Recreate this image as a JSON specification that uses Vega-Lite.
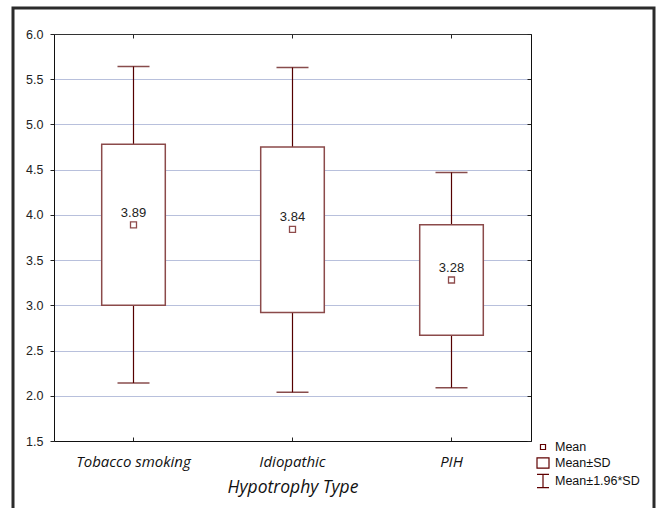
{
  "$schema": "https://vega.github.io/schema/vega-lite/v6.json",
  "width": 641,
  "height": 503,
  "autosize": {"type": "none"},
  "padding": {"left": 13, "top": 8, "right": 5, "bottom": -3},
  "background": "white",
  "config": {"view": {"stroke": "#2b2b2b", "strokeWidth": 3, "fill": "white"}},
  "data": {"values": [
    {"type": "Tobacco smoking", "mean": 3.89, "sd_lo": 3.00, "sd_hi": 4.78, "ci_lo": 2.14, "ci_hi": 5.64},
    {"type": "Idiopathic", "mean": 3.84, "sd_lo": 2.92, "sd_hi": 4.75, "ci_lo": 2.04, "ci_hi": 5.63},
    {"type": "PIH", "mean": 3.28, "sd_lo": 2.67, "sd_hi": 3.89, "ci_lo": 2.09, "ci_hi": 4.47}
  ]},
  "layer": [
    {
      "mark": {"type": "rule", "color": "#550000", "strokeWidth": 1.2},
      "encoding": {
        "x": {"field": "type", "type": "nominal", "sort": ["Tobacco smoking", "Idiopathic", "PIH"],
          "scale": {"domain": ["Tobacco smoking", "Idiopathic", "PIH"], "range": [41, 518], "paddingInner": 0, "paddingOuter": 0},
          "axis": {"orient": "bottom", "offset": -70, "title": "Hypotrophy Type", "titleFont": "Open Sans", "titleFontStyle": "italic", "titleFontSize": 17.5, "titleFontWeight": "normal", "titleColor": "#111", "titlePadding": 9,
            "labelFont": "Open Sans", "labelFontStyle": "italic", "labelFontSize": 15, "labelColor": "#111", "labelPadding": 17, "labelAngle": 0,
            "tickSize": -4, "tickColor": "#222", "domainColor": "#111", "domainWidth": 1, "grid": false}},
        "y": {"field": "ci_lo", "type": "quantitative",
          "scale": {"domain": [1.5, 6], "range": [433, 26], "nice": false, "zero": false},
          "axis": {"orient": "left", "offset": -41, "title": null, "values": [1.5, 2, 2.5, 3, 3.5, 4, 4.5, 5, 5.5, 6], "format": ".1f",
            "labelFont": "Liberation Sans", "labelFontSize": 12.5, "labelColor": "#222", "labelPadding": 7,
            "tickSize": 4, "tickColor": "#222", "domainColor": "#111", "domainWidth": 1,
            "grid": true, "gridColor": "#7080b8", "gridDash": [1, 1], "gridWidth": 1}},
        "y2": {"field": "ci_hi"}
      }
    },
    {
      "mark": {"type": "bar", "fill": "white", "stroke": "#8b4a4a", "strokeWidth": 1.5, "width": {"band": 0.4}},
      "encoding": {
        "x": {"field": "type", "type": "nominal", "sort": ["Tobacco smoking", "Idiopathic", "PIH"],
          "axis": {"orient": "top", "offset": -26, "title": null, "labels": false, "tickSize": -4, "tickColor": "#222", "domainColor": "#333", "domainWidth": 1, "grid": false}},
        "y": {"field": "sd_lo", "type": "quantitative",
          "axis": {"orient": "right", "offset": -123, "title": null, "labels": false, "values": [1.5, 2, 2.5, 3, 3.5, 4, 4.5, 5, 5.5, 6], "tickSize": -4, "tickColor": "#222", "domainColor": "#111", "domainWidth": 1, "grid": false}},
        "y2": {"field": "sd_hi"}
      }
    },
    {
      "mark": {"type": "tick", "color": "#550000", "size": 32, "thickness": 1.5},
      "encoding": {
        "x": {"field": "type", "type": "nominal", "sort": ["Tobacco smoking", "Idiopathic", "PIH"], "axis": null},
        "y": {"field": "ci_hi", "type": "quantitative", "axis": null}
      }
    },
    {
      "mark": {"type": "tick", "color": "#550000", "size": 32, "thickness": 1.5},
      "encoding": {
        "x": {"field": "type", "type": "nominal", "sort": ["Tobacco smoking", "Idiopathic", "PIH"], "axis": null},
        "y": {"field": "ci_lo", "type": "quantitative", "axis": null}
      }
    },
    {
      "mark": {"type": "point", "shape": "square", "size": 36, "filled": false, "color": "#600000", "strokeWidth": 1.3},
      "encoding": {
        "x": {"field": "type", "type": "nominal", "sort": ["Tobacco smoking", "Idiopathic", "PIH"], "axis": null},
        "y": {"field": "mean", "type": "quantitative", "axis": null}
      }
    },
    {
      "mark": {"type": "text", "dy": -12, "font": "Liberation Sans", "fontSize": 13, "color": "#222"},
      "encoding": {
        "x": {"field": "type", "type": "nominal", "sort": ["Tobacco smoking", "Idiopathic", "PIH"], "axis": null},
        "y": {"field": "mean", "type": "quantitative", "axis": null},
        "text": {"field": "mean", "type": "quantitative", "format": ".2f"}
      }
    },
    {
      "data": {"values": [{"item": "Mean"}, {"item": "Mean±SD"}, {"item": "Mean±1.96*SD"}]},
      "mark": {"type": "point", "opacity": 0, "filled": false},
      "encoding": {
        "shape": {"field": "item", "type": "nominal",
          "scale": {"domain": ["Mean", "Mean±SD", "Mean±1.96*SD"],
            "range": ["M-0.42,-0.42H0.42V0.42H-0.42Z", "M-1,-0.85H1V0.85H-1Z", "M-1,-1.1H1M0,-1.1V1.1M-1,1.1H1"]},
          "legend": {"orient": "none", "legendX": 523, "legendY": 432, "title": null, "padding": 0,
            "symbolSize": 144, "symbolStrokeWidth": 1.2, "symbolStrokeColor": "#600000", "symbolFillColor": "transparent", "symbolOpacity": 1,
            "labelFont": "Liberation Sans", "labelFontSize": 12.5, "labelColor": "#111", "labelOffset": 5, "rowPadding": 1}}
      }
    }
  ],
  "resolve": {"axis": {"x": "independent", "y": "independent"}}
}
